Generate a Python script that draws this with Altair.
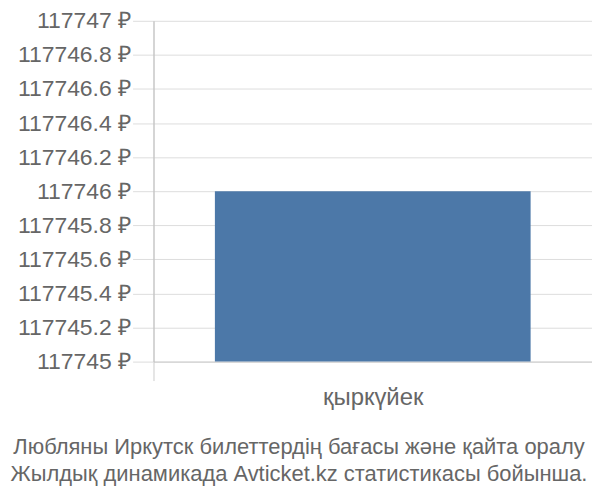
import altair as alt
import pandas as pd

months = ["қыркүйек"]
prices = [117746]
base_price = 117745
title_lines = ["Любляны Иркутск билеттердің бағасы және қайта оралу",
               "Жылдық динамикада Avticket.kz статистикасы бойынша."]

df = pd.DataFrame({"month": months, "price": prices, "base": [base_price] * len(months)})

FONT = "Liberation Sans"

chart = alt.Chart(df).mark_bar(color="#4c78a8", width=alt.RelativeBandSize(0.72)).encode(
    x=alt.X("month:N", title=None,
            scale=alt.Scale(paddingInner=0, paddingOuter=0),
            axis=alt.Axis(labelAngle=0, grid=True, gridColor="#e0e0e0", tickBand="extent",
                          ticks=True, tickSize=19, tickColor="#cccccc", domainColor="#cccccc",
                          labelFont=FONT, labelFontSize=24, labelColor="#666666", labelPadding=5)),
    y=alt.Y("price:Q", title=None,
            scale=alt.Scale(domain=[117745, 117747], nice=False, zero=False),
            axis=alt.Axis(values=[117745 + 0.2 * i for i in range(11)],
                          labelExpr="format(datum.value, '.1~f') + ' ₽'",
                          gridColor="#dddddd", tickColor="#dddddd", tickSize=21,
                          domainColor="#bbbbbb",
                          labelFont=FONT, labelFontSize=23, labelColor="#666666", labelPadding=2)),
    y2="base:Q",
).properties(
    width=440, height=342,
    padding={"left": 146, "top": 12, "right": 0, "bottom": 130},
    autosize=alt.AutoSizeParams(type="none"),
    title=alt.TitleParams(title_lines, orient="bottom", anchor="middle", dx=-74, offset=28,
                          font=FONT, fontSize=22, fontWeight="normal", color="#666666",
                          lineHeight=27),
).configure_view(stroke=None)

chart.save("out.html", embed_options={"renderer": "svg", "actions": False})
